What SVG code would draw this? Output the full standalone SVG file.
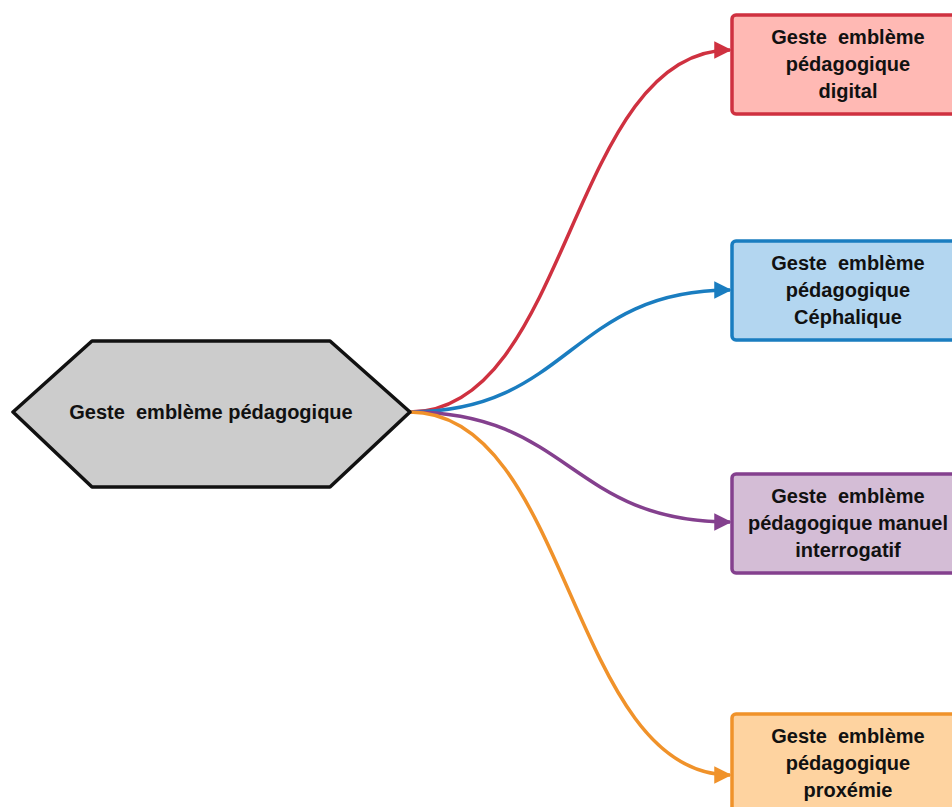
<svg xmlns="http://www.w3.org/2000/svg" width="952" height="807" viewBox="0 0 952 807">
<style>
text{font-family:"Liberation Sans",Arial,sans-serif;font-weight:bold;font-size:20px;fill:#111;text-anchor:middle;white-space:pre}
.c{fill:none;stroke-width:3.5}
.b{stroke-width:3.5}
</style>
<defs>
<marker id="mr" viewBox="0 0 10 10" refX="9" refY="5" markerWidth="5" markerHeight="5" markerUnits="strokeWidth" orient="auto"><path d="M0,0L10,5L0,10z" fill="#cf3140"/></marker>
<marker id="mb" viewBox="0 0 10 10" refX="9" refY="5" markerWidth="5" markerHeight="5" markerUnits="strokeWidth" orient="auto"><path d="M0,0L10,5L0,10z" fill="#1a7dc0"/></marker>
<marker id="mp" viewBox="0 0 10 10" refX="9" refY="5" markerWidth="5" markerHeight="5" markerUnits="strokeWidth" orient="auto"><path d="M0,0L10,5L0,10z" fill="#84408e"/></marker>
<marker id="mo" viewBox="0 0 10 10" refX="9" refY="5" markerWidth="5" markerHeight="5" markerUnits="strokeWidth" orient="auto"><path d="M0,0L10,5L0,10z" fill="#f0922a"/></marker>
</defs>
<rect width="952" height="807" fill="#fff"/>
<g id="connectors">
<path class="c" stroke="#cf3140" marker-end="url(#mr)" d="M410,412 C570,412 570,50 730,50"/>
<path class="c" stroke="#1a7dc0" marker-end="url(#mb)" d="M410,412 C570,412 570,290 730,290"/>
<path class="c" stroke="#84408e" marker-end="url(#mp)" d="M410,412 C570,412 570,522 730,522"/>
<path class="c" stroke="#f0922a" marker-end="url(#mo)" d="M410,412 C570,412 570,775 730,775"/>
</g>
<g id="root">
<path class="b" d="M13,412 L92,341 L330,341 L410,412 L330,487 L92,487 Z" fill="#cccccc" stroke="#111" stroke-linejoin="round"/>
<text x="211" y="419" xml:space="preserve">Geste  emblème pédagogique</text>
</g>
<g id="n1">
<rect class="b" x="732" y="15" width="232" height="99" rx="4" fill="#ffb9b4" stroke="#cf3140"/>
<text x="848" y="44" xml:space="preserve">Geste  emblème</text><text x="848" y="71">pédagogique</text><text x="848" y="98">digital</text>
</g>
<g id="n2">
<rect class="b" x="732" y="241" width="232" height="99" rx="4" fill="#b3d6f0" stroke="#1a7dc0"/>
<text x="848" y="270" xml:space="preserve">Geste  emblème</text><text x="848" y="297">pédagogique</text><text x="848" y="324">Céphalique</text>
</g>
<g id="n3">
<rect class="b" x="732" y="474" width="232" height="99" rx="4" fill="#d4bdd6" stroke="#84408e"/>
<text x="848" y="503" xml:space="preserve">Geste  emblème</text><text x="848" y="530">pédagogique manuel</text><text x="848" y="557">interrogatif</text>
</g>
<g id="n4">
<rect class="b" x="732" y="714" width="232" height="99" rx="4" fill="#fed3a0" stroke="#f0922a"/>
<text x="848" y="743" xml:space="preserve">Geste  emblème</text><text x="848" y="770">pédagogique</text><text x="848" y="797">proxémie</text>
</g>
</svg>
